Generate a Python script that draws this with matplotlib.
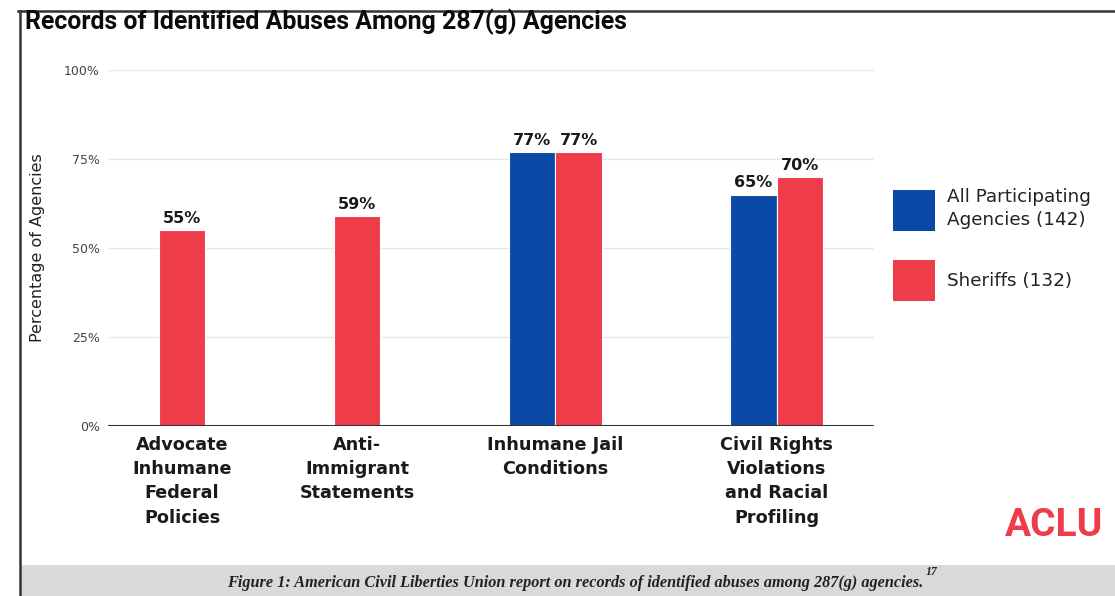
import matplotlib
matplotlib.use("Agg")
import matplotlib.pyplot as plt
from matplotlib.patches import Patch, Rectangle
from matplotlib.lines import Line2D
import numpy as np

'''
DATA
'''
categories = ['Advocate\nInhumane\nFederal\nPolicies',
              'Anti-\nImmigrant\nStatements',
              'Inhumane Jail\nConditions',
              'Civil Rights\nViolations\nand Racial\nProfiling']
all_agencies = [None, None, 77, 65]   # no blue bar for the first two groups
sheriffs = [55, 59, 77, 70]
series_labels = ['All Participating\nAgencies (142)', 'Sheriffs (132)']
y_ticks = [0, 25, 50, 75, 100]

title = 'Records of Identified Abuses Among 287(g) Agencies'
y_label = 'Percentage of Agencies'
caption = ('Figure 1: American Civil Liberties Union report on records of '
           'identified abuses among 287(g) agencies.')
caption_ref = '17'
logo = 'ACLU'

'''
STYLE
'''
W, H = 1115, 596
blue = '#0a4aa6'
red = '#ef3c4b'
grid_color = '#e8e8e8'
text_color = '#1a1a1a'
tick_color = '#444444'
border_color = '#333333'
band_color = '#d9d9d9'
# layout in bar-width units: groups are packed with a constant gap between them
bar_w = 1.0
group_gap = 2.78
side_pad = 1.1

fig = plt.figure(figsize=(W / 100, H / 100), dpi=100)

# gray caption band at the bottom
fig.add_artist(Rectangle((21 / W, 0), 1, 31 / H, transform=fig.transFigure,
                         facecolor=band_color, edgecolor='none'))
# frame lines (top and left)
fig.add_artist(Line2D([18 / W, 1], [1 - 10.5 / H, 1 - 10.5 / H],
                      transform=fig.transFigure, color=border_color, lw=1.8))
fig.add_artist(Line2D([19.5 / W, 19.5 / W], [0, 1 - 10.5 / H],
                      transform=fig.transFigure, color=border_color, lw=1.8))

fig.text(25 / W, 1 - 22 / H, title, ha='left', va='center',
         fontsize=17.9, fontweight='bold', family='Roboto', color='#0a0a0a')

ax = fig.add_axes([108 / W, 170 / H, 766 / W, 356 / H])

# group centres from number of bars in each group
n_bars = [2 if a is not None else 1 for a in all_agencies]
centres = []
pos = 0.0
for n in n_bars:
    centres.append(pos + n * bar_w / 2)
    pos += n * bar_w + group_gap
end = pos - group_gap

for i in range(len(categories)):
    c = centres[i]
    if n_bars[i] == 2:
        b = ax.bar(c - bar_w / 2, all_agencies[i], width=bar_w, color=blue,
                   edgecolor='white', linewidth=0.8, zorder=3)
        ax.bar_label(b, labels=[f'{all_agencies[i]}%'], padding=3,
                     fontsize=11.5, fontweight='bold', color=text_color)
        rx = c + bar_w / 2
    else:
        rx = c
    r = ax.bar(rx, sheriffs[i], width=bar_w, color=red, edgecolor='white',
               linewidth=0.8, zorder=3)
    ax.bar_label(r, labels=[f'{sheriffs[i]}%'], padding=3,
                 fontsize=11.5, fontweight='bold', color=text_color)

ax.set_xlim(-side_pad, end + side_pad)
ax.set_ylim(0, 100)
ax.set_yticks(y_ticks)
ax.set_yticklabels([f'{v}%' for v in y_ticks])
ax.tick_params(axis='y', length=0, pad=6, labelsize=9, labelcolor=tick_color)
ax.set_xticks(centres)
ax.set_xticklabels(categories, fontsize=12.7, fontweight='bold',
                   linespacing=1.45, color=text_color, va='top')
ax.tick_params(axis='x', length=0, pad=7)

for v in y_ticks[1:]:
    ax.axhline(v, color=grid_color, lw=1.0, zorder=1)
ax.axhline(0, color='#333333', lw=1.5, zorder=4)
for s in ax.spines.values():
    s.set_visible(False)

ax.set_ylabel(y_label, fontsize=11.5, color='#222222')
ax.yaxis.set_label_coords(-0.082, 0.5)

handles = [Patch(facecolor=blue, edgecolor='none'),
           Patch(facecolor=red, edgecolor='none')]
leg = ax.legend(handles, series_labels, loc='upper left',
                bbox_to_anchor=(893 / W, 1 - 188 / H),
                bbox_transform=fig.transFigure, frameon=False,
                handlelength=2.29, handleheight=3.08, handletextpad=0.65,
                labelspacing=1.58, borderpad=0, borderaxespad=0,
                fontsize=13.2, labelcolor='#222222')
for t in leg.get_texts():
    t.set_linespacing(1.35)

fig.text(1103 / W, 1 - 525 / H, logo, ha='right', va='center', fontsize=28,
         fontweight='bold', family='Roboto', color=red)

cap = fig.text(575 / W, 1 - 583 / H, caption, ha='center', va='center',
               family='Liberation Serif', style='italic', fontweight='bold',
               fontsize=11.7, color='#222222')
fig.add_artist(matplotlib.text.Annotation(
    caption_ref, xy=(1.0, 0.8), xycoords=cap, xytext=(1.5, 0),
    textcoords='offset points', ha='left', va='bottom',
    family='Liberation Serif', style='italic', fontweight='bold',
    fontsize=8.5, color='#222222', annotation_clip=False))

fig.savefig('out.png', dpi=100)
